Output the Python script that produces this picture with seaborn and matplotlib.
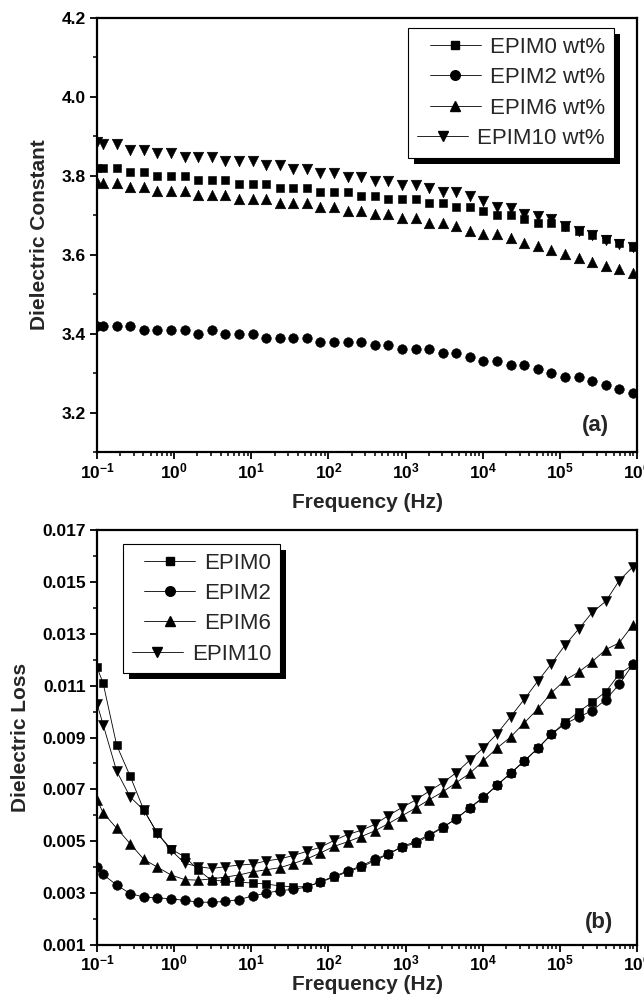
import numpy as np
import matplotlib
matplotlib.use('Agg')
import matplotlib.pyplot as plt
import seaborn as sns
from matplotlib.lines import Line2D
from matplotlib.patches import Rectangle
from matplotlib.ticker import LogLocator, NullFormatter, MultipleLocator
from matplotlib.transforms import IdentityTransform

# ---------------- data ----------------
freq = [0.1, 0.12, 0.18, 0.27, 0.405, 0.608, 0.911, 1.37, 2.05, 3.08, 4.61,
        6.92, 10.4, 15.6, 23.4, 35.0, 52.5, 78.8, 118, 177, 266, 399, 598,
        897, 1350, 2020, 3030, 4540, 6810, 10200, 15300, 23000, 34500, 51700,
        77600, 116000, 175000, 262000, 393000, 589000, 884000]

const_epim0 = [3.82, 3.82, 3.82, 3.81, 3.81, 3.80, 3.80, 3.80, 3.79, 3.79, 3.79,
               3.78, 3.78, 3.78, 3.77, 3.77, 3.77, 3.76, 3.76, 3.76, 3.75, 3.75,
               3.74, 3.74, 3.74, 3.73, 3.73, 3.72, 3.72, 3.71, 3.70, 3.70, 3.69,
               3.68, 3.68, 3.67, 3.66, 3.65, 3.64, 3.63, 3.62]
const_epim2 = [3.42, 3.42, 3.42, 3.42, 3.41, 3.41, 3.41, 3.41, 3.40, 3.41, 3.40,
               3.40, 3.40, 3.39, 3.39, 3.39, 3.39, 3.38, 3.38, 3.38, 3.38, 3.37,
               3.37, 3.36, 3.36, 3.36, 3.35, 3.35, 3.34, 3.33, 3.33, 3.32, 3.32,
               3.31, 3.30, 3.29, 3.29, 3.28, 3.27, 3.26, 3.25]
const_epim6 = [3.785, 3.782, 3.782, 3.771, 3.771, 3.761, 3.761, 3.761, 3.751, 3.751, 3.751,
               3.740, 3.740, 3.740, 3.731, 3.731, 3.731, 3.720, 3.720, 3.711, 3.711, 3.702,
               3.702, 3.692, 3.692, 3.681, 3.681, 3.674, 3.660, 3.652, 3.652, 3.642, 3.630,
               3.623, 3.612, 3.603, 3.592, 3.582, 3.571, 3.564, 3.553]
const_epim10 = [3.885, 3.880, 3.880, 3.866, 3.866, 3.857, 3.857, 3.848, 3.848, 3.848, 3.837,
                3.837, 3.837, 3.828, 3.828, 3.818, 3.818, 3.807, 3.807, 3.797, 3.797, 3.786,
                3.786, 3.777, 3.777, 3.768, 3.759, 3.759, 3.748, 3.736, 3.722, 3.718, 3.704,
                3.697, 3.690, 3.672, 3.660, 3.649, 3.637, 3.626, 3.619]

loss_epim0 = [0.0117, 0.0111, 0.0087, 0.0075, 0.0062, 0.0053, 0.0047, 0.0044, 0.0039, 0.00348,
              0.00348, 0.00342, 0.00339, 0.00335, 0.00328, 0.00324, 0.00325, 0.00342, 0.00362,
              0.00382, 0.00400, 0.00425, 0.00450, 0.00478, 0.00492, 0.00522, 0.00552, 0.00588,
              0.00628, 0.00668, 0.00715, 0.00762, 0.00808, 0.00858, 0.00912, 0.00958, 0.00999,
              0.01036, 0.01076, 0.01145, 0.0118]
loss_epim2 = [0.0040, 0.00372, 0.00331, 0.00298, 0.00285, 0.00282, 0.00278, 0.00272, 0.00265,
              0.00265, 0.00268, 0.00275, 0.00289, 0.00300, 0.00310, 0.00314, 0.00324, 0.00344,
              0.00365, 0.00385, 0.00405, 0.00430, 0.00452, 0.00479, 0.00499, 0.00525, 0.00555,
              0.00586, 0.00630, 0.00670, 0.00716, 0.00763, 0.00810, 0.00858, 0.00912, 0.00952,
              0.00979, 0.01003, 0.01046, 0.01105, 0.01183]
loss_epim6 = [0.0066, 0.0061, 0.0055, 0.0049, 0.0043, 0.0040, 0.00370, 0.00352, 0.00350,
              0.00355, 0.00362, 0.00370, 0.00382, 0.00390, 0.00398, 0.00414, 0.00432, 0.00455,
              0.00480, 0.00498, 0.00518, 0.00540, 0.00568, 0.00598, 0.00628, 0.00660, 0.00690,
              0.00726, 0.00762, 0.00810, 0.00859, 0.00902, 0.00956, 0.01010, 0.01072, 0.01121,
              0.01152, 0.01192, 0.01239, 0.01265, 0.01334]
loss_epim10 = [0.0103, 0.0095, 0.0077, 0.0067, 0.0062, 0.0053, 0.00466, 0.00415, 0.00402,
               0.00395, 0.00402, 0.00408, 0.00412, 0.00424, 0.00432, 0.00445, 0.00461, 0.00477,
               0.00503, 0.00526, 0.00542, 0.00565, 0.00599, 0.00630, 0.00659, 0.00693, 0.00726,
               0.00764, 0.00813, 0.00860, 0.00914, 0.00980, 0.01047, 0.01117, 0.01184, 0.01255,
               0.01318, 0.01382, 0.01425, 0.01505, 0.01558]

names_a = ['EPIM0 wt%', 'EPIM2 wt%', 'EPIM6 wt%', 'EPIM10 wt%']
names_b = ['EPIM0', 'EPIM2', 'EPIM6', 'EPIM10']
markers = ['s', 'o', '^', 'v']
msizes = [6.1, 6.9, 7.6, 7.6]

xtick_values = [1e-1, 1e0, 1e1, 1e2, 1e3, 1e4, 1e5, 1e6]
xtick_labels = [r'$\mathbf{10^{-1}}$', r'$\mathbf{10^{0}}$', r'$\mathbf{10^{1}}$',
                r'$\mathbf{10^{2}}$', r'$\mathbf{10^{3}}$', r'$\mathbf{10^{4}}$',
                r'$\mathbf{10^{5}}$', r'$\mathbf{10^{6}}$']
yticks_a = [3.2, 3.4, 3.6, 3.8, 4.0, 4.2]
yticklabels_a = ['3.2', '3.4', '3.6', '3.8', '4.0', '4.2']
yticks_b = [0.001, 0.003, 0.005, 0.007, 0.009, 0.011, 0.013, 0.015, 0.017]
yticklabels_b = ['0.001', '0.003', '0.005', '0.007', '0.009', '0.011', '0.013', '0.015', '0.017']

# ---------------- style ----------------
sns.set_theme(style='ticks')
plt.rcParams['font.family'] = ['Liberation Sans', 'DejaVu Sans']
plt.rcParams.update({
    'mathtext.fontset': 'custom',
    'mathtext.rm': 'Liberation Sans',
    'mathtext.bf': 'Liberation Sans:bold',
    'mathtext.it': 'Liberation Sans:italic',
    'axes.linewidth': 1.6,
    'axes.edgecolor': 'black',
    'xtick.color': 'black',
    'ytick.color': 'black',
})

fig = plt.figure(figsize=(6.44, 9.99), dpi=100)
W, H = 644.0, 999.0
ax1 = fig.add_axes([97 / W, 1 - 452 / H, 540 / W, 434 / H])
ax2 = fig.add_axes([97 / W, 1 - 945 / H, 540 / W, 415 / H])

series_a = [const_epim0, const_epim2, const_epim6, const_epim10]
series_b = [loss_epim0, loss_epim2, loss_epim6, loss_epim10]

for vals, m, ms in zip(series_a, markers, msizes):
    sns.scatterplot(x=freq, y=vals, marker=m, s=ms ** 2, color='black',
                    edgecolor='black', linewidth=0.4, ax=ax1, zorder=3)

for vals, m, ms in zip(series_b, markers, msizes):
    sns.lineplot(x=freq, y=vals, marker=m, markersize=ms, color='black',
                 markeredgecolor='black', markeredgewidth=0.4,
                 linewidth=0.6, ax=ax2, zorder=3, estimator=None, sort=False)


def style_axis(ax, yt, ytl, ylim, yminor, label, xpad):
    ax.set_xscale('log')
    ax.set_xlim(0.1, 1e6)
    ax.set_ylim(*ylim)
    ax.set_xticks(xtick_values)
    ax.set_xticklabels(xtick_labels, fontsize=12.5)
    ax.xaxis.set_minor_locator(LogLocator(base=10, subs=np.arange(2, 10), numticks=20))
    ax.xaxis.set_minor_formatter(NullFormatter())
    ax.set_yticks(yt)
    ax.set_yticklabels(ytl, fontsize=12.5, fontweight='bold')
    ax.yaxis.set_minor_locator(MultipleLocator(yminor))
    ax.tick_params(which='major', direction='out', length=5, width=1.3,
                   top=False, right=False, pad=3)
    ax.tick_params(axis='x', which='major', pad=xpad)
    ax.tick_params(which='minor', direction='out', length=3, width=1.1,
                   top=False, right=False)
    ax.set_ylabel(label, fontsize=15, fontweight='bold', labelpad=9)
    for sp in ax.spines.values():
        sp.set_visible(True)
        sp.set_linewidth(1.6)
    ax.grid(False)


style_axis(ax1, yticks_a, yticklabels_a, (3.1, 4.2), 0.1, 'Dielectric Constant', 1.5)
style_axis(ax2, yticks_b, yticklabels_b, (0.001, 0.017), 0.001, 'Dielectric Loss', 1.0)
ax1.set_xlabel('Frequency (Hz)', fontsize=15, fontweight='bold', labelpad=9)
ax2.set_xlabel('Frequency (Hz)', fontsize=15, fontweight='bold', labelpad=1)

ax1.text(0.923, 0.062, '(a)', transform=ax1.transAxes, fontsize=16,
         fontweight='bold', ha='center', va='center')
ax2.text(0.93, 0.055, '(b)', transform=ax2.transAxes, fontsize=16,
         fontweight='bold', ha='center', va='center')


def make_handles(names):
    return [Line2D([0], [0], color='black', lw=0.6, marker=m, markersize=ms,
                   markerfacecolor='black', markeredgecolor='black', label=n)
            for n, m, ms in zip(names, markers, msizes)]


leg1 = ax1.legend(handles=make_handles(names_a), loc='upper right',
                  bbox_to_anchor=(0.957, 0.977), fontsize=16, frameon=True,
                  fancybox=False, framealpha=1, edgecolor='black',
                  handlelength=2.3, handletextpad=0.4, labelspacing=0.42,
                  borderpad=0.4, borderaxespad=0)
leg2 = ax2.legend(handles=make_handles(names_b), loc='upper left',
                  bbox_to_anchor=(0.048, 0.967), fontsize=16, frameon=True,
                  fancybox=False, framealpha=1, edgecolor='black',
                  handlelength=2.3, handletextpad=0.4, labelspacing=0.42,
                  borderpad=0.4, borderaxespad=0)
for leg in (leg1, leg2):
    leg.get_frame().set_linewidth(0.8)
    try:
        for col in leg._legend_handle_box.get_children():
            col.align = 'right'
    except Exception:
        pass

fig.canvas.draw()
renderer = fig.canvas.get_renderer()
for ax, leg in ((ax1, leg1), (ax2, leg2)):
    bb = leg.get_window_extent(renderer)
    shadow = Rectangle((bb.x0 + 6, bb.y0 - 6), bb.width, bb.height,
                       transform=IdentityTransform(), facecolor='black',
                       edgecolor='none', zorder=4.5, clip_on=False)
    ax.add_artist(shadow)

fig.savefig('out.png', dpi=100)
